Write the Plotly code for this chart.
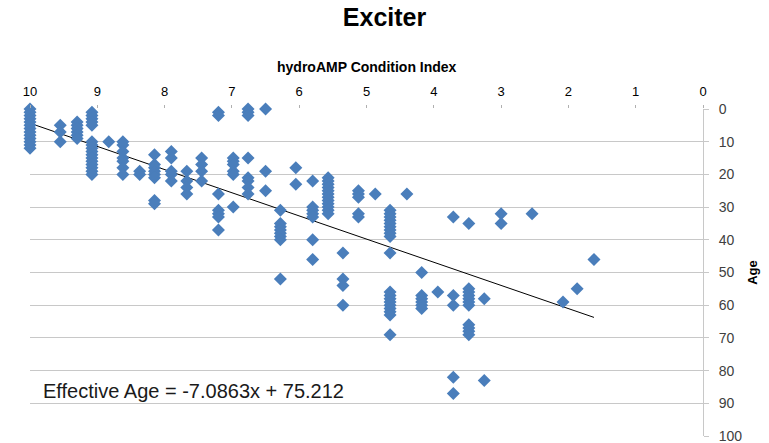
import plotly.graph_objects as go

# hydroAMP Condition Index (x) and Age (y) for each exciter
condition_index = (
    [10.0] * 13 + [9.55] * 3 + [9.3] * 6 + [9.08] * 16 + [8.83] + [8.62] * 7 +
    [8.37] * 2 + [8.15] * 8 + [7.9] * 5 + [7.67] * 4 + [7.45] * 4 + [7.2] * 7 +
    [6.98] * 6 + [6.76] * 8 + [6.5] * 3 + [6.28] * 8 + [6.05] * 2 + [5.8] * 7 +
    [5.57] * 12 + [5.35] * 4 + [5.12] * 5 + [4.87] + [4.65] * 19 + [4.4] +
    [4.18] * 6 + [3.94] + [3.71] * 5 + [3.48] * 11 + [3.25] * 2 + [3.0] * 2 +
    [2.54] + [2.08] + [1.87] + [1.62]
)
age = (
    [0, 1, 2, 3, 4, 5, 6, 7, 8, 9, 10, 11, 12] +
    [5, 7, 10] +
    [4, 5, 6, 7, 8, 9] +
    [1, 2, 3, 4, 5, 10, 11, 12, 13, 14, 15, 16, 17, 18, 19, 20] +
    [10] +
    [10, 11, 13, 15, 16, 18, 20] +
    [19, 20] +
    [14, 17, 18, 19, 20, 21, 28, 29] +
    [13, 15, 19, 20, 22] +
    [19, 22, 24, 26] +
    [15, 17, 19, 22] +
    [1, 2, 26, 31, 32, 33, 37] +
    [15, 16, 17, 19, 20, 30] +
    [0, 1, 2, 15, 21, 22, 24, 26] +
    [0, 19, 25] +
    [31, 35, 36, 37, 38, 39, 40, 52] +
    [18, 23] +
    [22, 30, 31, 32, 33, 40, 46] +
    [21, 22, 23, 24, 25, 26, 27, 28, 29, 30, 31, 32] +
    [44, 52, 54, 60] +
    [25, 26, 27, 32, 33] +
    [26] +
    [31, 32, 33, 34, 35, 36, 37, 38, 39, 44, 56, 57, 58, 59, 60, 61, 62, 63, 69] +
    [26] +
    [50, 57, 58, 59, 60, 61] +
    [56] +
    [33, 57, 60, 82, 87] +
    [35, 55, 56, 57, 58, 59, 60, 66, 67, 68, 69] +
    [58, 83] +
    [32, 35] +
    [32] +
    [59] +
    [55] +
    [46]
)

trend_slope = -7.0863
trend_intercept = 75.212
equation_label = "Effective Age = -7.0863x + 75.212"

x_ticks = [10, 9, 8, 7, 6, 5, 4, 3, 2, 1, 0]
y_ticks = [0, 10, 20, 30, 40, 50, 60, 70, 80, 90, 100]

trend_x = [max(condition_index), min(condition_index)]
trend_y = [trend_slope * v + trend_intercept for v in trend_x]

FONT = "Liberation Sans"

fig = go.Figure()
fig.add_trace(go.Scatter(
    x=trend_x, y=trend_y, mode="lines",
    line=dict(color="black", width=1),
    showlegend=False, hoverinfo="skip",
))
fig.add_trace(go.Scatter(
    x=condition_index, y=age, mode="markers", cliponaxis=False,
    marker=dict(symbol="diamond", size=10, color="#4A7EBB", line=dict(width=0)),
    showlegend=False, hoverinfo="x+y",
))

fig.update_layout(
    width=769, height=443,
    margin=dict(l=30, r=66, t=109, b=7, autoexpand=False),
    paper_bgcolor="white", plot_bgcolor="white",
    font=dict(family=FONT, color="#404040"),
    title=dict(text="<b>Exciter</b>", x=0.5, xanchor="center", y=0.98, yanchor="top",
               font=dict(size=25, color="black", family=FONT)),
    xaxis=dict(
        side="top", range=[10, 0], tickvals=x_ticks, ticktext=[str(v) for v in x_ticks],
        showgrid=False, zeroline=False, showline=False, automargin=False,
        ticks="outside", ticklen=3, tickcolor="#B0B0B0", ticklabelstandoff=4,
        tickfont=dict(size=13, color="black"),
    ),
    yaxis=dict(
        side="right", range=[100, 0], tickvals=y_ticks, automargin=False,
        ticklabeloverflow="allow",
        showgrid=True, gridcolor="#C8C8C8", gridwidth=1, zeroline=False,
        showline=True, linecolor="#C8C8C8", linewidth=1,
        ticks="outside", ticklen=5, tickcolor="#C8C8C8", ticklabelstandoff=7,
        tickfont=dict(size=14, color="#404040"),
        title=dict(text="<b>Age</b>", standoff=6, font=dict(size=13, color="black")),
    ),
    annotations=[
        dict(
            text="<b>hydroAMP Condition Index</b>", xref="paper", yref="paper",
            x=0.5, y=1.128, xanchor="center", yanchor="middle", showarrow=False,
            font=dict(size=14, color="black", family=FONT),
        ),
        dict(
            text=equation_label, xref="paper", yref="paper", x=0.016, y=0.138,
            xanchor="left", yanchor="middle", showarrow=False,
            font=dict(size=20, color="#1a1a1a", family=FONT),
        ),
    ],
)

fig.write_html(
    "out.html",
    config={"displayModeBar": False},
    post_script="document.body.style.margin='0';document.body.style.overflow='hidden';",
)
